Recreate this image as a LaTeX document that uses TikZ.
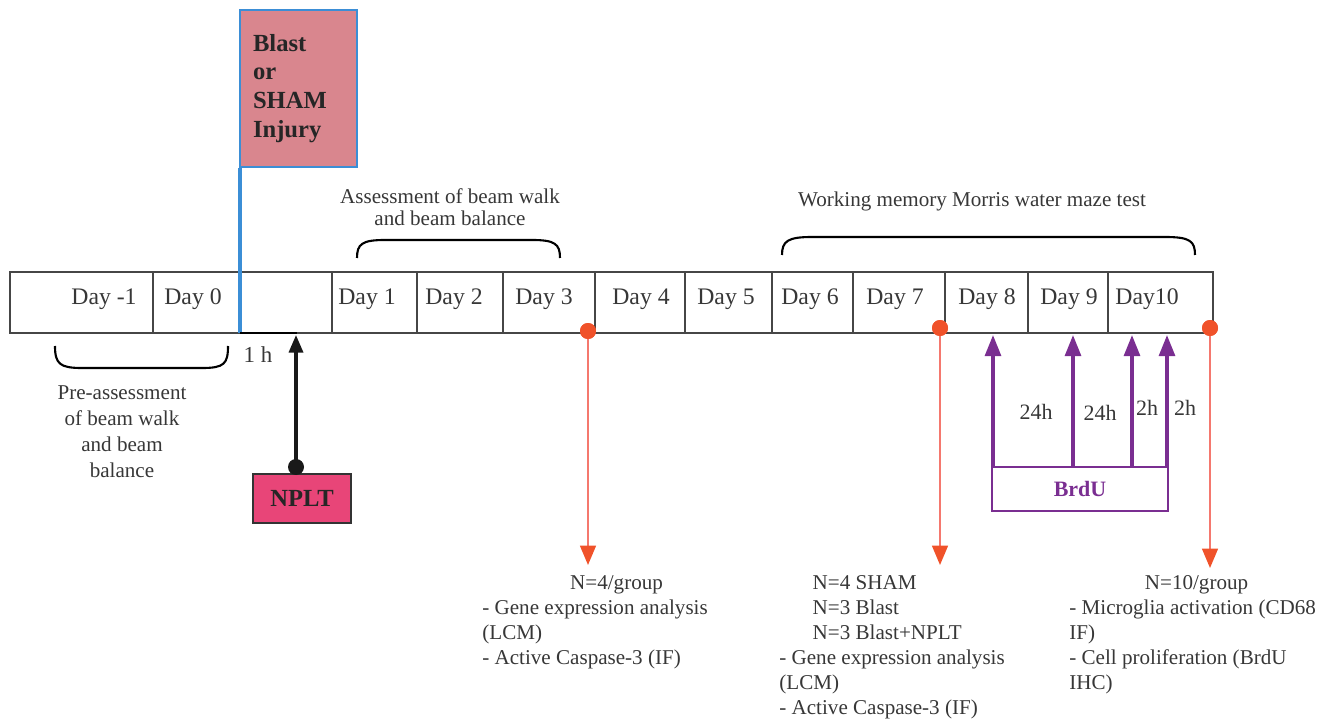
\documentclass[tikz,border=0pt]{standalone}
\usepackage{fontspec}
\setmainfont{Liberation Serif}
\usetikzlibrary{arrows.meta}
\definecolor{txt}{RGB}{55,55,55}
\definecolor{cellline}{RGB}{70,70,70}
\definecolor{injuryfill}{RGB}{217,134,142}
\definecolor{injuryblue}{RGB}{59,142,214}
\definecolor{npltfill}{RGB}{232,69,120}
\definecolor{cutred}{RGB}{240,82,42}
\definecolor{cutline}{RGB}{245,120,110}
\definecolor{brdupurple}{RGB}{122,46,145}
\tikzset{>=latex,
  cell/.style={draw=cellline, line width=0.75pt},
  day/.style={font=\fontsize{13.5}{16}\selectfont, text=txt, anchor=base},
  note/.style={font=\fontsize{12}{14.2}\selectfont, text=txt, align=center},
  result/.style={font=\fontsize{12}{14.2}\selectfont, text=txt, align=left, anchor=north west, inner sep=0pt},
  brace/.style={draw=black, line width=1.2pt},
  injury/.style={draw=injuryblue, line width=1.4pt, fill=injuryfill, minimum height=3.14cm,
    inner xsep=0.26cm, text width=1.82cm, align=left, font=\fontsize{14}{16.4}\selectfont\bfseries, text=black!85},
  injline/.style={draw=injuryblue, line width=2.2pt},
  hourbar/.style={draw=black, line width=1.7pt},
  nplt/.style={draw=black!80, line width=0.8pt, fill=npltfill, minimum width=1.96cm, minimum height=0.98cm,
    font=\fontsize{14}{16}\selectfont\bfseries, text=black!85},
  blackdot/.style={circle, fill=black!90, inner sep=0pt, minimum size=0.32cm},
  blackarrow/.style={draw=black!90, line width=1.8pt, -{Triangle[length=10pt,width=8pt]}},
  reddot/.style={circle, fill=cutred, inner sep=0pt, minimum size=0.32cm},
  redarrow/.style={draw=cutline, line width=1.1pt, -{Triangle[length=11pt,width=9pt,color=cutred]}},
  brdubox/.style={draw=brdupurple, line width=1pt, minimum width=3.52cm, minimum height=0.88cm,
    font=\fontsize{12.5}{15}\selectfont\bfseries, text=brdupurple},
  brduarrow/.style={draw=brdupurple, line width=2pt, -{Triangle[length=12pt,width=9pt]}}
}
\begin{document}
\begin{tikzpicture}[x=0.02cm,y=-0.02cm]
\useasboundingbox (0,0) rectangle (1328,719);

% time line
\draw[cell] (10,272) rectangle (1213,333);
\foreach \x in {153,240,332,417,503,595,685,772,853,945,1028,1108}
  \draw[cell] (\x,272) -- (\x,333);
\foreach \x/\d/\n in {104/Day -1/dm1, 193/Day 0/d0, 367/Day 1/d1, 454/Day 2/d2, 544/Day 3/d3,
    641/Day 4/d4, 726/Day 5/d5, 810/Day 6/d6, 895/Day 7/d7, 987/Day 8/d8, 1069/Day 9/d9, 1147/Day10/d10}
  \node[day] (\n) at (\x,305) {\d};

% braces
\draw[brace] (55,346) .. controls (55,364) and (60,368) .. (82,368) -- (202,368) .. controls (224,368) and (228,364) .. (228,346);
\node[note, font=\fontsize{12}{14.8}\selectfont] (pre) at (122,432) {Pre-assessment\\of beam walk\\and beam\\balance};
\draw[brace] (357,258) .. controls (357,244) and (362,240) .. (385,240) -- (532,240) .. controls (555,240) and (560,244) .. (560,258);
\node[note, font=\fontsize{12}{12.5}\selectfont] (assess) at (450,207) {Assessment of beam walk\\and beam balance};
\draw[brace] (782,255) .. controls (782,241) and (788,237) .. (812,237) -- (1165,237) .. controls (1190,237) and (1195,241) .. (1195,255);
\node[note] (maze) at (972,201) {Working memory Morris water maze test};

% injury
\node[injury] (blast) at (298.5,88.5) {Blast\\or\\SHAM\\Injury};
\coordinate (inj) at (240,333);
\draw[injline] (inj |- blast.south) -- (inj);
\coordinate (oneh) at (297,333);
\draw[hourbar] (inj) -- (oneh);
\node[note, font=\fontsize{13}{15}\selectfont] (hlabel) at (258,355) {1 h};

% treatment
\node[nplt] (nplt) at (302,498.5) {NPLT};
\node[blackdot] (npltdot) at (296,467) {};
\coordinate (npltend) at (296,335);
\draw[blackarrow] (npltdot.center) -- (npltend);

% BrdU
\node[brdubox] (brdu) at (1080,489) {BrdU};
\foreach \x/\n in {993/p1,1073/p2,1132/p3,1167/p4}
  \coordinate (\n) at (\x,335);
\foreach \n in {p1,p2,p3,p4}
  \draw[brduarrow] (\n |- brdu.north) -- (\n);
\node[note, font=\fontsize{12.5}{15}\selectfont] (h1) at (1036,412) {24h};
\node[note, font=\fontsize{12.5}{15}\selectfont] (h2) at (1100,413) {24h};
\node[note, font=\fontsize{12.5}{15}\selectfont] (h3) at (1147,408) {2h};
\node[note, font=\fontsize{12.5}{15}\selectfont] (h4) at (1185,408) {2h};

% sacrifice points
\node[result] (res3) at (482,575) {\hspace*{50pt}N=4/group\\- Gene expression analysis\\(LCM)\\- Active Caspase-3 (IF)};
\node[result] (res7) at (779,575) {\hspace*{19pt}N=4 SHAM\\\hspace*{19pt}N=3 Blast\\\hspace*{19pt}N=3 Blast+NPLT\\- Gene expression analysis\\(LCM)\\- Active Caspase-3 (IF)};
\node[result] (res10) at (1069,575) {\hspace*{43pt}N=10/group\\- Microglia activation (CD68\\IF)\\- Cell proliferation (BrdU\\IHC)};
\coordinate (end3) at (588,565);
\coordinate (end7) at (940,565);
\coordinate (end10) at (1210,568);
\node[reddot] (cut3) at (588,331) {};
\node[reddot] (cut7) at (940,328) {};
\node[reddot] (cut10) at (1210,328) {};
\draw[redarrow] (cut3.center) -- (end3);
\draw[redarrow] (cut7.center) -- (end7);
\draw[redarrow] (cut10.center) -- (end10);
\node[reddot] at (cut3) {};
\node[reddot] at (cut7) {};
\node[reddot] at (cut10) {};
\end{tikzpicture}
\end{document}
